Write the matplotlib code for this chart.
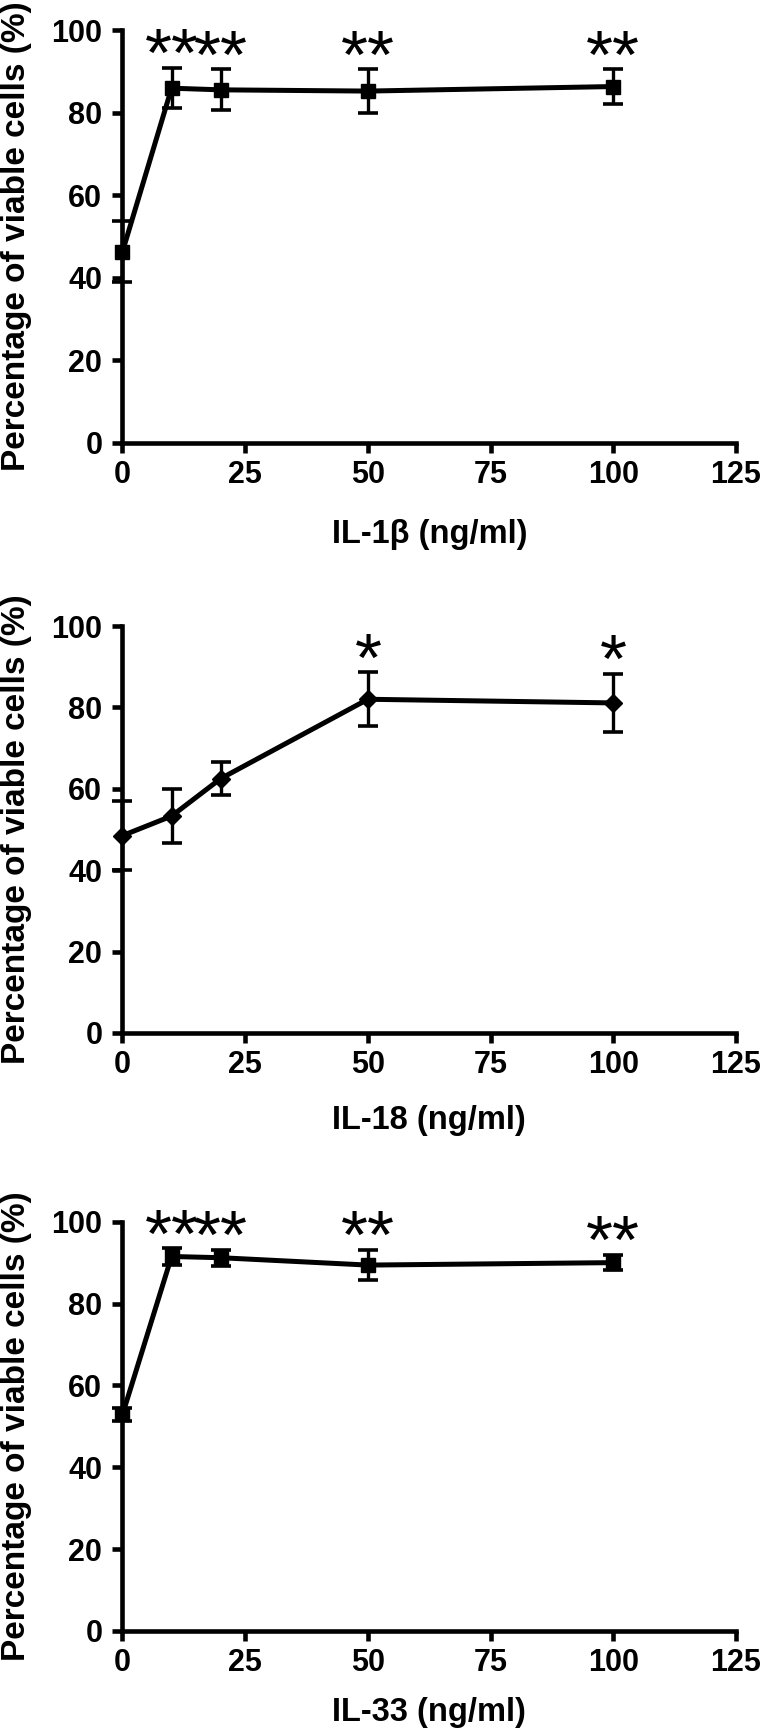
import matplotlib
matplotlib.use("Agg")
import matplotlib.pyplot as plt
from matplotlib import font_manager as fm

# ---------------- data ----------------
conc = [0, 10, 20, 50, 100]

il1b_mean = [46.3, 85.9, 85.5, 85.2, 86.3]
il1b_sem = [7.4, 4.9, 5.0, 5.3, 4.2]
il1b_sig = ["", "**", "**", "**", "**"]

il18_mean = [48.5, 53.3, 62.5, 82.0, 81.1]
il18_sem = [8.4, 6.7, 4.0, 6.6, 7.2]
il18_sig = ["", "", "", "*", "*"]

il33_mean = [52.9, 91.5, 91.2, 89.4, 90.0]
il33_sem = [1.5, 2.0, 2.0, 3.7, 1.9]
il33_sig = ["", "**", "**", "**", "**"]

xlabels = ["IL-1\u03b2 (ng/ml)", "IL-18 (ng/ml)", "IL-33 (ng/ml)"]
ylabel = "Percentage of viable cells (%)"
xticks = [0, 25, 50, 75, 100, 125]
yticks = [0, 20, 40, 60, 80, 100]

# ---------------- fonts ----------------
names = {f.name for f in fm.fontManager.ttflist}
narrow = "Liberation Sans Narrow" if "Liberation Sans Narrow" in names else "Liberation Sans"
regular = "Liberation Sans"

W, H = 769, 1734
fig = plt.figure(figsize=(W / 100, H / 100), dpi=100)

# axes boxes in pixels: (left, top, right, bottom)
boxes = [(122.5, 30, 736, 442.7), (122.5, 626, 736, 1033), (122.5, 1221.7, 736, 1631)]
markers = ["s", "D", "s"]
msizes = [10, 9, 10]
xlabel_y = [535, 1121, 1712]
panels = [(il1b_mean, il1b_sem, il1b_sig), (il18_mean, il18_sem, il18_sig),
          (il33_mean, il33_sem, il33_sig)]

for i, (box, (m, s, sig)) in enumerate(zip(boxes, panels)):
    l, t, r, b = box
    ax = fig.add_axes([l / W, 1 - b / H, (r - l) / W, (b - t) / H])
    ax.errorbar(conc, m, yerr=s, fmt="-", marker=markers[i], ms=msizes[i],
                color="black", lw=3.6, elinewidth=2.4, capsize=7.5, capthick=2.6,
                clip_on=False, zorder=3)
    ax.set_xlim(0, 125)
    ax.set_ylim(0, 100)
    ax.set_xticks(xticks)
    ax.set_yticks(yticks)
    for sp in ["top", "right"]:
        ax.spines[sp].set_visible(False)
    for sp in ["left", "bottom"]:
        ax.spines[sp].set_linewidth(3.3)
        ax.spines[sp].set_capstyle("projecting")
    ax.tick_params(axis="both", direction="out", length=7.5, width=3.3)
    ax.tick_params(axis="x", pad=5)
    ax.tick_params(axis="y", pad=7)
    for lab in ax.get_xticklabels() + ax.get_yticklabels():
        lab.set_fontfamily(narrow)
        lab.set_fontweight("bold")
        lab.set_fontsize(22)
    for xi, mi, si, st in zip(conc, m, s, sig):
        if st:
            ax.annotate(st, (xi, mi + si), xytext=(0, -6), textcoords="offset points",
                        ha="center", va="baseline", fontsize=50, family=regular,
                        annotation_clip=False)
    fig.text(((l + r) / 2) / W, 1 - xlabel_y[i] / H, xlabels[i], ha="center",
             va="center", family=narrow, fontweight="bold", fontsize=23.5)
    fig.text(17 / W, 1 - ((t + b) / 2) / H, ylabel, rotation=90, ha="center",
             va="center", family=regular, fontweight="bold", fontsize=24)

fig.savefig("out.png", dpi=100, facecolor="white")
